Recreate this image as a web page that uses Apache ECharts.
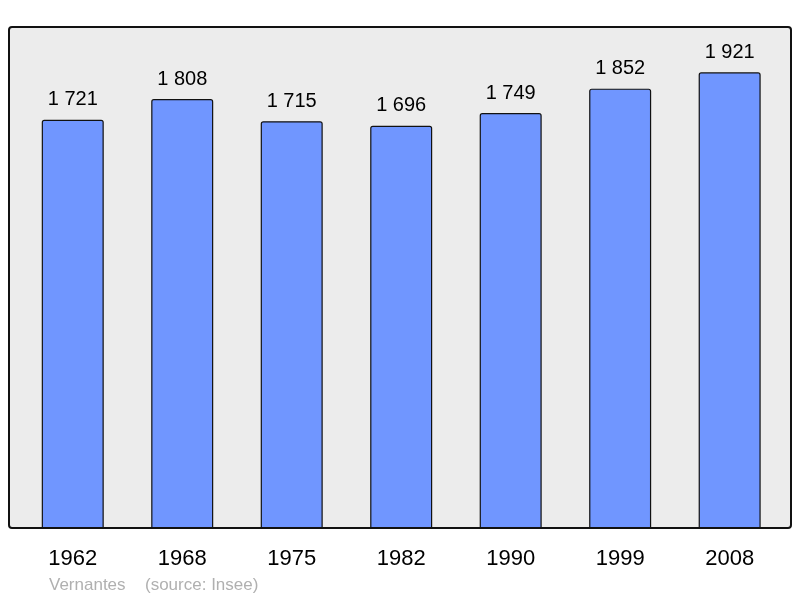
<!DOCTYPE html>
<html><head><meta charset="utf-8">
<script src="https://cdn.jsdelivr.net/npm/echarts@6/dist/echarts.min.js"></script>
<style>html,body{margin:0;padding:0;background:#fff}#c{width:800px;height:598px}</style>
</head><body><div id="c"></div>
<script>
var years = ['1962','1968','1975','1982','1990','1999','2008'];
var population = [1721, 1808, 1715, 1696, 1749, 1852, 1921];
var place = 'Vernantes';
var source = '(source: Insee)';

function fmt(v){ return String(v).replace(/\B(?=(\d{3})+(?!\d))/g, ' '); }

var chart = echarts.init(document.getElementById('c'), null, {renderer:'canvas'});
chart.setOption({
  animation:false,
  backgroundColor:'#ffffff',
  grid:{left:18, right:15.6, top:26.7, bottom:69.7, containLabel:false},
  xAxis:{type:'category', data:years,
    axisLine:{show:false}, axisTick:{show:false},
    axisLabel:{color:'#000', fontSize:22, fontFamily:'Liberation Sans, Arial, sans-serif', margin:20}},
  yAxis:{type:'value', min:0, max:2113, show:false, splitLine:{show:false}},
  graphic:[
    {type:'rect', z:-10, shape:{x:9, y:27, width:782, height:501, r:3},
     style:{fill:'#ececec', stroke:null}},
    {type:'rect', z:100, shape:{x:9, y:27, width:782, height:501, r:3},
     style:{fill:null, stroke:'#111', lineWidth:2}},
    {type:'text', left:49, top:577, style:{text:place, fill:'#b0b0b0', fontSize:17, fontFamily:'Liberation Sans, Arial, sans-serif'}},
    {type:'text', left:145, top:577, style:{text:source, fill:'#b0b0b0', fontSize:17, fontFamily:'Liberation Sans, Arial, sans-serif'}}
  ],
  series:[{type:'bar', data:population, barWidth:62,
    itemStyle:{color:'#7096ff', borderColor:'#111', borderWidth:1.2, borderRadius:[2,2,0,0]},
    label:{show:true, position:'top', distance:10, color:'#000', fontSize:20,
      fontFamily:'Liberation Sans, Arial, sans-serif',
      formatter:function(p){return fmt(p.value);}}
  }]
});
</script></body></html>
